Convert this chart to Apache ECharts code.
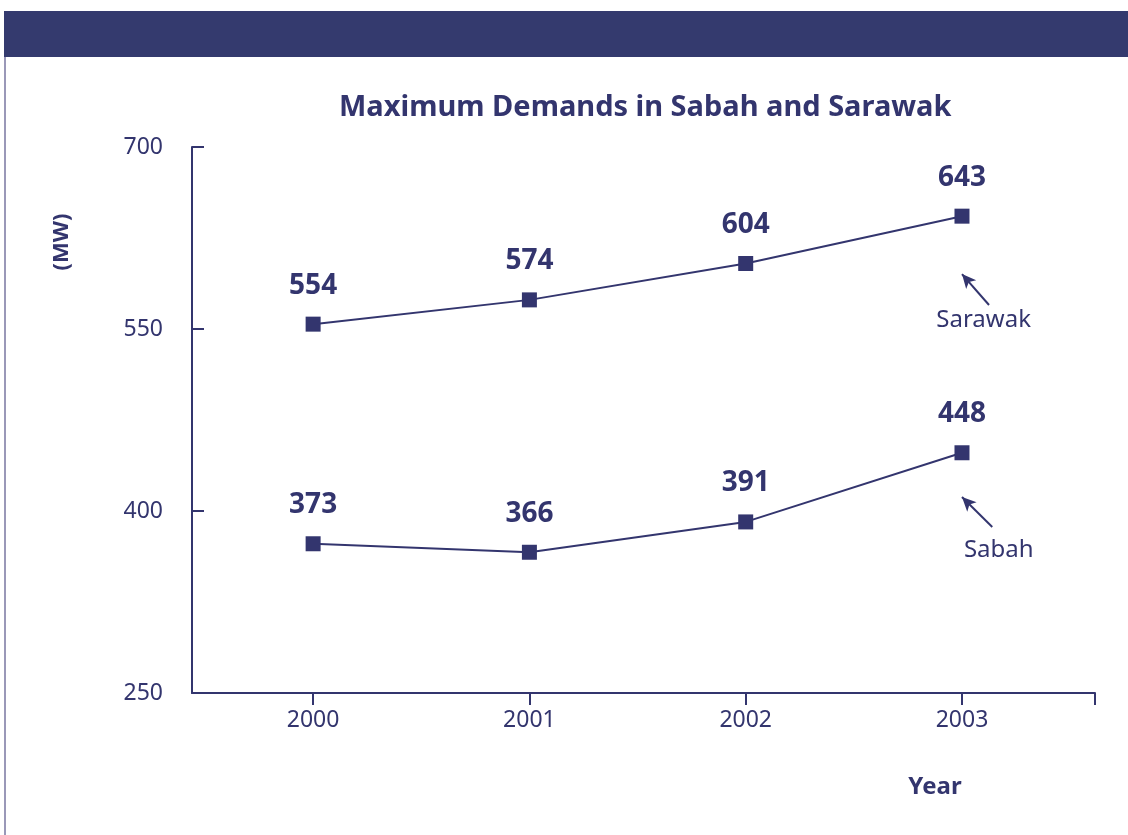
<!DOCTYPE html>
<html>
<head>
<meta charset="utf-8">
<script src="https://cdn.jsdelivr.net/npm/echarts@6/dist/echarts.min.js"></script>
<style>
  html, body { margin: 0; padding: 0; background: #fff; }
  #chart { width: 1128px; height: 835px; }
</style>
</head>
<body>
<div id="chart"></div>
<script>
// data
const years = ["2000", "2001", "2002", "2003"];
const sarawak = [554, 574, 604, 643];
const sabah = [373, 366, 391, 448];
const yTicks = [250, 400, 550, 700];

const NAVY = "#33356e";
const FONT = "Noto Sans";

const xMin = 1999.44;
const xMax = 2003.615;

const chart = echarts.init(document.getElementById("chart"));

function lineSeries(name, values, arrow, textPos) {
  return {
    name: name,
    type: "line",
    data: years.map((y, i) => [Number(y), values[i]]),
    symbol: "rect",
    symbolSize: 15,
    itemStyle: { color: NAVY },
    lineStyle: { color: NAVY, width: 2 },
    label: {
      show: true,
      position: "top",
      distance: 17,
      color: NAVY,
      fontFamily: FONT,
      fontSize: 28,
      fontWeight: "bold",
      formatter: (p) => p.value[1],
    },
    markLine: {
      silent: true,
      symbol: ["none", "arrow"],
      symbolSize: [10, 14],
      lineStyle: { color: NAVY, width: 2, type: "solid" },
      label: { show: false },
      data: [[{ coord: arrow[0] }, { coord: arrow[1] }]],
    },
    markPoint: {
      silent: true,
      symbolSize: 0,
      label: {
        show: true,
        position: "inside",
        color: NAVY,
        fontFamily: FONT,
        fontSize: 24,
        formatter: name,
      },
      data: [{ coord: textPos }],
    },
  };
}

const options = {
  backgroundColor: "#fff",
  animation: false,
  title: {
    text: "Maximum Demands in Sabah and Sarawak",
    left: 334,
    top: 88,
    textStyle: {
      color: NAVY,
      fontFamily: FONT,
      fontSize: 29,
      fontWeight: "bold",
    },
  },
  grid: {
    left: 192,
    right: 33,
    top: 147,
    bottom: 142,
  },
  xAxis: {
    type: "value",
    min: xMin,
    max: xMax,
    splitLine: { show: false },
    axisLine: { show: true, lineStyle: { color: NAVY, width: 2 } },
    axisTick: {
      show: true,
      length: 12,
      lineStyle: { color: NAVY, width: 2 },
      customValues: years.map(Number).concat([xMax]),
    },
    axisLabel: {
      color: NAVY,
      fontFamily: FONT,
      fontSize: 23,
      margin: 16,
      customValues: years.map(Number),
      formatter: (v) => String(Math.round(v)),
    },
  },
  yAxis: {
    type: "value",
    min: 250,
    max: 700,
    interval: 150,
    splitLine: { show: false },
    axisLine: { show: true, lineStyle: { color: NAVY, width: 2 } },
    axisTick: {
      show: true,
      inside: true,
      length: 12,
      lineStyle: { color: NAVY, width: 2 },
    },
    axisLabel: {
      color: NAVY,
      fontFamily: FONT,
      fontSize: 23,
      margin: 29,
      customValues: yTicks,
    },
  },
  graphic: [
    {
      type: "rect",
      shape: { x: 4, y: 11, width: 1124, height: 46 },
      style: { fill: "#343a6e" },
    },
    {
      type: "line",
      shape: { x1: 5, y1: 57, x2: 5, y2: 835 },
      style: { stroke: "#9a98b8", lineWidth: 2 },
    },
    {
      type: "text",
      x: 62,
      y: 242,
      rotation: Math.PI / 2,
      style: {
        text: "(MW)",
        fill: NAVY,
        font: "bold 22px 'Noto Sans'",
        align: "center",
        verticalAlign: "middle",
      },
    },
    {
      type: "text",
      x: 935,
      y: 787,
      style: {
        text: "Year",
        fill: NAVY,
        font: "bold 24px 'Noto Sans'",
        align: "center",
        verticalAlign: "middle",
      },
    },
  ],
  series: [
    lineSeries("Sarawak", sarawak, [[2003.125, 569.8], [2003.0, 595.3]], [2003.1, 557.4]),
    lineSeries("Sabah", sabah, [[2003.14, 386.8], [2003.0, 411.5]], [2003.17, 367.9]),
  ],
};

chart.setOption(options);
</script>
</body>
</html>
